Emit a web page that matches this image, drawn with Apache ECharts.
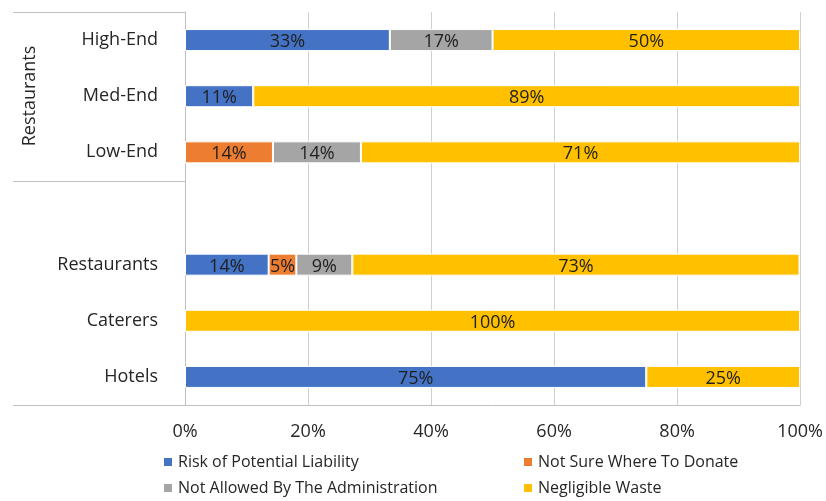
<!DOCTYPE html>
<html>
<head>
<meta charset="utf-8">
<script src="https://cdn.jsdelivr.net/npm/echarts@6/dist/echarts.min.js"></script>
<style>
  html, body { margin: 0; padding: 0; background: #fff; }
  #chart { width: 826px; height: 501px; }
</style>
</head>
<body>
<div id="chart"></div>
<script>
// categories, bottom to top (blank row separates the restaurant tiers)
const categories = ['Hotels', 'Caterers', 'Restaurants', '', 'Low-End', 'Med-End', 'High-End']
const seriesNames = ['Risk of Potential Liability', 'Not Sure Where To Donate', 'Not Allowed By The Administration', 'Negligible Waste']
const riskLiability = [75, 0, 13.6, null, 0, 11.1, 33.3]
const notSure = [0, 0, 4.5, null, 14.3, 0, 0]
const notAllowed = [0, 0, 9.1, null, 14.3, 0, 16.7]
const negligible = [25, 100, 72.7, null, 71.4, 88.9, 50]
const xTicks = [0, 20, 40, 60, 80, 100]
const colors = ['#4472C4', '#ED7D31', '#A5A5A5', '#FFC000']
const font = 'Open Sans'

const values = [riskLiability, notSure, notAllowed, negligible]

const series = values.map((v, i) => ({
    name: seriesNames[i],
    type: 'bar',
    stack: 'total',
    barWidth: 22,
    data: v,
    itemStyle: { color: colors[i], borderColor: '#fff', borderWidth: 1 },
    label: {
        show: true,
        position: 'inside',
        offset: [0, 2],
        color: '#1f1f1f',
        fontFamily: font,
        fontSize: 18,
        formatter: (p) => (p.value ? Math.round(p.value) + '%' : '')
    }
}))

const option = {
    animation: false,
    backgroundColor: '#fff',
    grid: { left: 185, right: 25, top: 12, bottom: 96 },
    xAxis: {
        type: 'value',
        min: xTicks[0],
        max: xTicks[xTicks.length - 1],
        interval: 20,
        axisLine: { show: true, lineStyle: { color: '#bfbfbf' } },
        axisTick: { show: false },
        splitLine: { show: true, lineStyle: { color: '#d0d0d0' } },
        axisLabel: {
            color: '#262626',
            fontFamily: font,
            fontSize: 18,
            margin: 18,
            formatter: '{value}%'
        }
    },
    yAxis: {
        type: 'category',
        data: categories,
        axisLine: { show: true, lineStyle: { color: '#bfbfbf' } },
        axisTick: { show: false },
        axisLabel: { color: '#262626', fontFamily: font, fontSize: 18, margin: 27 }
    },
    legend: [
        {
            data: [seriesNames[0], seriesNames[2]],
            orient: 'vertical',
            left: 157,
            top: 449,
            itemWidth: 10,
            itemHeight: 10,
            itemGap: 10,
            icon: 'rect',
            textStyle: { color: '#262626', fontFamily: font, fontSize: 16 }
        },
        {
            data: [seriesNames[1], seriesNames[3]],
            orient: 'vertical',
            left: 517,
            top: 449,
            itemWidth: 10,
            itemHeight: 10,
            itemGap: 10,
            icon: 'rect',
            textStyle: { color: '#262626', fontFamily: font, fontSize: 16 }
        }
    ],
    // multi-level category bracket on the left
    graphic: [
        { type: 'line', shape: { x1: 13, y1: 12.5, x2: 185, y2: 12.5 }, style: { stroke: '#bfbfbf', lineWidth: 1 } },
        { type: 'line', shape: { x1: 13, y1: 181.5, x2: 185, y2: 181.5 }, style: { stroke: '#bfbfbf', lineWidth: 1 } },
        { type: 'line', shape: { x1: 13, y1: 405.5, x2: 185, y2: 405.5 }, style: { stroke: '#bfbfbf', lineWidth: 1 } },
        {
            type: 'text',
            x: 30,
            y: 96,
            rotation: Math.PI / 2,
            style: {
                text: 'Restaurants',
                fill: '#262626',
                font: '18px "Open Sans"',
                align: 'center',
                verticalAlign: 'middle'
            }
        }
    ],
    series: series
}

const myChart = echarts.init(document.getElementById('chart'))
myChart.setOption(option)
window.addEventListener('resize', () => {
    myChart.resize()
})
</script>
</body>
</html>
